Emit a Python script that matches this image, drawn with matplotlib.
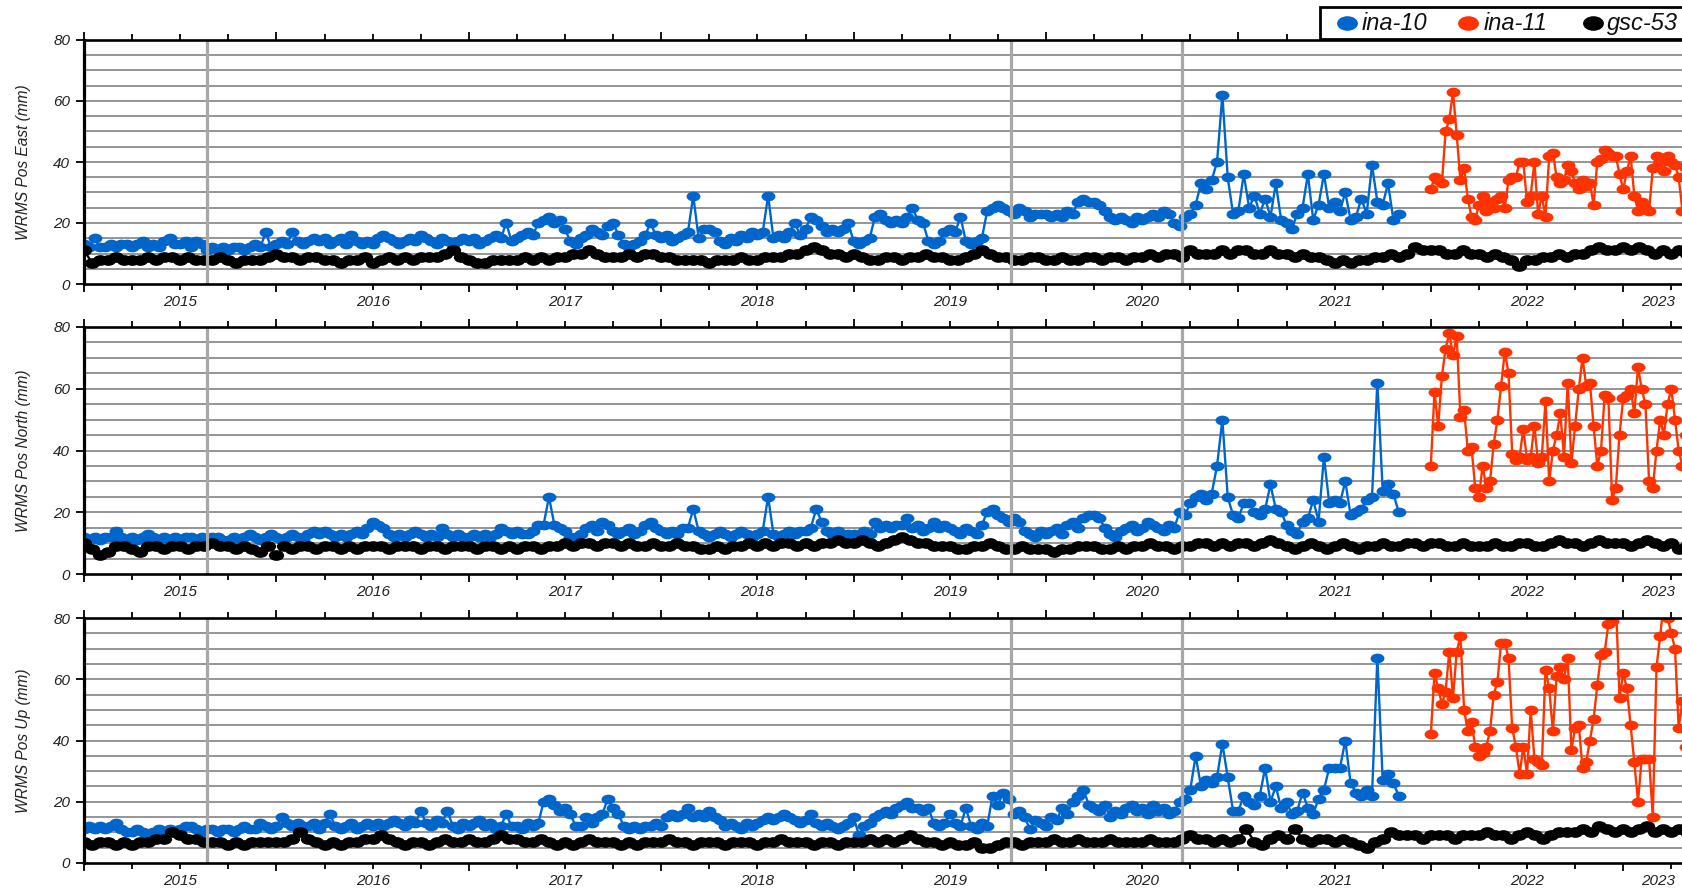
import numpy as np
import matplotlib
matplotlib.use("Agg")
import matplotlib.pyplot as plt
from matplotlib.path import Path
from matplotlib.transforms import Affine2D, blended_transform_factory
from matplotlib.lines import Line2D
from matplotlib.patches import Rectangle

plt.rcParams['font.family'] = ['Liberation Sans', 'DejaVu Sans']

# ---------------- data ----------------
PANEL_LABELS = ["WRMS Pos East (mm)", "WRMS Pos North (mm)", "WRMS Pos Up (mm)"]
SERIES_NAMES = ["ina-10", "ina-11", "gsc-53"]
SERIES_COLORS = ["#0066cc", "#ff3300", "#000000"]
YEARS = list(range(2015, 2024))
EVENT_DATES = [2015.637, 2019.82, 2020.705]
X_START, X_END = 2015.0, 2023.36
Y_TICKS = [0, 20, 40, 60, 80]

INA10_T0, INA10_STEP = 2015.0, 1 / 36
INA11_T0, INA11_STEP = 2022.0, 1 / 52
GSC53_T0, GSC53_STEP = 2015.0, 1 / 24

ina10_east = [
    13, 12, 15, 12, 12, 13, 12, 13, 13,
    12, 13, 14, 12, 13, 12, 14, 15, 13,
    13, 14, 12, 14, 13, 11, 12, 11, 12,
    11, 12, 12, 11, 12, 13, 12, 17, 12,
    13, 14, 13, 17, 14, 13, 14, 15, 14,
    15, 13, 14, 15, 13, 16, 14, 13, 14,
    13, 15, 16, 15, 14, 13, 14, 15, 14,
    16, 15, 14, 13, 15, 14, 13, 14, 15,
    14, 15, 13, 14, 15, 16, 15, 20, 14,
    15, 16, 17, 16, 20, 21, 22, 20, 21,
    18, 14, 13, 15, 16, 18, 17, 16, 19,
    20, 16, 13, 12, 13, 14, 16, 20, 16,
    15, 16, 14, 15, 16, 17, 29, 15, 18,
    18, 17, 14, 13, 15, 14, 16, 15, 17,
    16, 17, 29, 15, 16, 15, 17, 20, 16,
    18, 22, 21, 19, 17, 18, 17, 18, 20,
    14, 13, 14, 15, 22, 23, 21, 20, 21,
    20, 22, 25, 21, 20, 14, 13, 14, 17,
    18, 17, 22, 14, 13, 14, 15, 24, 25,
    26, 25, 24, 23, 25, 24, 22, 23, 23,
    23, 22, 23, 22, 24, 23, 27, 28, 27,
    27, 26, 24, 22, 21, 22, 21, 20, 22,
    21, 22, 23, 22, 24, 23, 20, 19, 22,
    23, 26, 33, 31, 34, 40, 62, 35, 23,
    24, 36, 25, 29, 23, 28, 22, 33, 21,
    20, 18, 23, 25, 36, 21, 26, 36, 25,
    27, 24, 30, 21, 22, 28, 23, 39, 27,
    26, 33, 21, 23,
]
ina11_east = [
    31, 35, 34, 33, 50, 54, 63, 49, 34, 38, 28, 22, 21,
    26, 29, 24, 27, 25, 28, 29, 25, 34, 35, 35, 40, 40,
    27, 29, 40, 23, 29, 22, 42, 43, 35, 33, 34, 39, 37,
    33, 31, 34, 32, 33, 26, 40, 41, 44, 43, 42, 42, 36,
    31, 37, 42, 29, 24, 27, 25, 24, 38, 42, 40, 37, 42,
    40, 39, 35, 24, 38, 36,
]
gsc53_east = [
    11, 7, 8, 8, 9, 8,  8, 8, 9, 8, 9, 9,  8, 9, 8, 8, 8, 9,  8, 7, 8, 8, 8, 9,
    10, 9, 9, 8, 9, 9,  8, 8, 7, 8, 8, 9,  7, 8, 9, 8, 9, 8,  9, 9, 9, 10, 11, 9,
    8, 7, 7, 8, 8, 8,  8, 9, 8, 9, 8, 9,  9, 10, 10, 11, 10, 9,  9, 9, 10, 9, 10, 10,
    9, 9, 8, 8, 8, 8,  7, 8, 8, 8, 9, 8,  8, 9, 9, 9, 10, 10,  11, 12, 11, 10, 10, 9,
    10, 9, 8, 8, 9, 9,  8, 9, 9, 10, 9, 9,  8, 8, 9, 10, 11, 10,  9, 9, 8, 8, 9, 9,
    8, 8, 9, 8, 8, 9,  9, 8, 9, 9, 8, 9,  9, 10, 9, 10, 10, 9,  11, 10, 10, 10, 11, 10,
    11, 11, 10, 10, 11, 10,  10, 9, 10, 9, 9, 8,  7, 8, 7, 8, 8, 9,  9, 10, 9, 10, 12, 11,
    11, 11, 10, 10, 11, 10,  10, 9, 10, 9, 8, 6,  8, 8, 9, 9, 10, 9,  10, 10, 11, 12, 11, 11,
    12, 11, 12, 11, 10, 11,
    10, 11, 10,
]

ina10_north = [
    12, 11, 12, 11, 12, 12, 14, 12, 11,
    12, 11, 12, 13, 12, 11, 12, 11, 12,
    11, 12, 12, 11, 12, 11, 12, 12, 11,
    11, 12, 11, 12, 13, 12, 11, 12, 13,
    12, 11, 12, 13, 12, 11, 13, 14, 13,
    14, 13, 12, 13, 12, 13, 14, 13, 15,
    17, 16, 15, 13, 12, 13, 12, 13, 14,
    13, 12, 13, 12, 15, 13, 12, 13, 12,
    12, 13, 12, 13, 12, 13, 15, 14, 13,
    14, 13, 13, 14, 16, 16, 25, 16, 15,
    14, 12, 12, 13, 15, 16, 14, 17, 16,
    14, 13, 14, 15, 13, 14, 16, 17, 15,
    14, 13, 14, 13, 15, 15, 21, 14, 13,
    12, 13, 14, 13, 12, 13, 14, 13, 12,
    13, 14, 25, 13, 12, 13, 14, 13, 14,
    14, 15, 21, 17, 14, 13, 14, 13, 13,
    13, 12, 14, 13, 17, 15, 16, 15, 16,
    16, 18, 15, 16, 14, 15, 17, 15, 16,
    15, 14, 13, 15, 14, 13, 16, 20, 21,
    19, 18, 17, 18, 17, 14, 13, 12, 14,
    13, 14, 15, 13, 16, 17, 15, 18, 19,
    19, 18, 15, 13, 12, 14, 15, 16, 14,
    15, 17, 16, 15, 14, 16, 15, 20, 19,
    23, 25, 26, 24, 26, 35, 50, 25, 19,
    18, 23, 23, 20, 19, 21, 29, 21, 20,
    16, 14, 13, 17, 18, 24, 17, 38, 23,
    24, 23, 30, 19, 20, 21, 24, 25, 62,
    27, 29, 26, 20,
]
ina11_north = [
    35, 59, 48, 64, 73, 78, 71, 77, 51, 53, 40, 41, 28,
    25, 35, 28, 30, 42, 50, 61, 72, 65, 39, 37, 38, 47,
    37, 38, 48, 36, 38, 56, 30, 40, 45, 52, 38, 62, 36,
    48, 60, 70, 61, 62, 48, 35, 40, 58, 57, 24, 28, 45,
    57, 58, 60, 52, 67, 60, 55, 30, 28, 40, 50, 45, 55,
    60, 50, 40, 35, 45, 50,
]
gsc53_north = [
    10, 8, 6, 7, 9, 9,  8, 7, 9, 9, 8, 9,  9, 8, 9, 9, 10, 9,  9, 8, 9, 8, 7, 9,
    6, 9, 8, 9, 9, 8,  9, 9, 8, 9, 8, 9,  9, 9, 8, 9, 9, 9,  8, 9, 9, 8, 9, 9,
    9, 8, 9, 9, 8, 9,  8, 9, 9, 8, 9, 9,  10, 9, 10, 10, 9, 10,  10, 9, 10, 9, 9, 10,
    9, 9, 10, 9, 9, 8,  8, 9, 8, 9, 9, 10,  9, 10, 9, 10, 10, 9,  10, 9, 10, 10, 11, 10,
    10, 11, 10, 9, 10, 11,  12, 11, 10, 10, 9, 9,  9, 8, 8, 9, 9, 10,  9, 8, 8, 9, 8, 8,
    8, 7, 8, 8, 9, 9,  9, 8, 8, 9, 8, 9,  9, 10, 9, 9, 8, 9,  9, 10, 10, 9, 10, 9,
    10, 10, 9, 10, 11, 10,  9, 8, 9, 10, 9, 8,  9, 10, 9, 8, 9, 9,  10, 9, 9, 10, 10, 9,
    10, 10, 9, 9, 10, 9,  9, 9, 10, 9, 9, 10,  10, 9, 9, 10, 11, 10,  10, 9, 10, 11, 10, 10,
    10, 9, 10, 11, 10, 9,
    10, 8, 9,
]

ina10_up = [
    11, 12, 11, 12, 11, 12, 13, 11, 10,
    10, 11, 10, 9, 10, 11, 10, 11, 10,
    11, 12, 12, 11, 10, 11, 11, 10, 11,
    11, 10, 11, 12, 11, 11, 13, 12, 11,
    12, 15, 13, 12, 13, 12, 12, 13, 11,
    13, 16, 12, 11, 12, 13, 11, 12, 13,
    12, 13, 12, 13, 14, 13, 12, 14, 13,
    17, 13, 12, 14, 13, 17, 12, 11, 13,
    12, 13, 14, 12, 13, 11, 12, 16, 12,
    12, 11, 13, 12, 13, 20, 21, 19, 17,
    18, 16, 12, 12, 15, 13, 15, 16, 21,
    18, 16, 12, 11, 12, 11, 12, 12, 13,
    12, 15, 16, 15, 16, 18, 15, 16, 15,
    17, 15, 14, 12, 13, 12, 11, 13, 12,
    13, 14, 15, 14, 15, 16, 15, 14, 13,
    14, 16, 13, 12, 13, 12, 11, 12, 13,
    15, 9, 12, 13, 15, 16, 17, 16, 18,
    19, 20, 18, 18, 17, 18, 13, 12, 13,
    16, 13, 12, 18, 12, 11, 13, 12, 22,
    19, 23, 21, 16, 17, 15, 11, 14, 13,
    12, 15, 14, 18, 16, 20, 22, 24, 19,
    18, 17, 19, 15, 17, 16, 18, 19, 17,
    18, 16, 19, 17, 18, 16, 17, 20, 21,
    24, 35, 25, 27, 26, 28, 39, 28, 17,
    17, 22, 20, 19, 22, 31, 20, 25, 18,
    20, 16, 17, 23, 18, 16, 21, 24, 31,
    31, 31, 40, 26, 23, 22, 24, 22, 67,
    27, 29, 26, 22,
]
ina11_up = [
    42, 62, 57, 52, 56, 69, 54, 69, 74, 50, 43, 46, 38,
    35, 36, 38, 43, 55, 59, 72, 72, 67, 44, 38, 29, 38,
    29, 50, 34, 33, 32, 63, 57, 43, 61, 64, 60, 67, 37,
    44, 45, 31, 33, 40, 47, 58, 68, 69, 78, 79, 86, 54,
    62, 57, 45, 33, 20, 34, 34, 34, 15, 64, 74, 86, 80,
    75, 70, 44, 53, 38, 45,
]
gsc53_up = [
    7, 6, 7, 7, 6, 7,  6, 7, 7, 8, 8, 10,  9, 8, 8, 7, 7, 7,  6, 7, 6, 7, 7, 7,
    7, 7, 8, 10, 8, 7,  6, 7, 6, 7, 7, 8,  8, 9, 8, 7, 6, 7,  7, 6, 7, 8, 7, 7,
    8, 7, 7, 8, 9, 8,  8, 7, 7, 8, 7, 6,  7, 6, 7, 8, 7, 7,  7, 6, 7, 6, 7, 7,
    7, 8, 7, 7, 6, 7,  7, 7, 6, 7, 7, 7,  6, 7, 7, 8, 7, 7,  7, 6, 7, 7, 6, 7,
    7, 7, 8, 7, 8, 7,  8, 9, 8, 7, 7, 6,  7, 6, 6, 7, 5, 5,  6, 7, 7, 6, 7, 7,
    7, 8, 7, 7, 8, 7,  7, 7, 8, 7, 7, 7,  7, 8, 7, 7, 7, 8,  9, 8, 8, 7, 8, 7,
    8, 11, 7, 6, 8, 9,  8, 11, 8, 7, 8, 8,  7, 8, 7, 6, 5, 7,  8, 10, 9, 9, 9, 8,
    9, 9, 9, 8, 9, 9,  9, 10, 9, 9, 8, 9,  10, 9, 8, 9, 10, 10,  10, 11, 10, 12, 11, 10,
    11, 10, 11, 12, 10, 11,
    10, 11, 10,
]

PANELS = [
    (ina10_east, ina11_east, gsc53_east),
    (ina10_north, ina11_north, gsc53_north),
    (ina10_up, ina11_up, gsc53_up),
]

# ---------------- figure ----------------
W, H = 1683, 890
fig = plt.figure(figsize=(W / 100, H / 100), dpi=100)

left_px = 84
px_per_year = 192.4
right_px = left_px + (X_END - X_START) * px_per_year
panel_px = [(40, 284), (327, 574), (618, 863)]

ell = Path.unit_circle().transformed(Affine2D().scale(1.0, 0.70))
MARKER_SIZES = [10.0, 10.0, 11.0]

def times(t0, step, n):
    return t0 + step * np.arange(n)

for i, (top, bot) in enumerate(panel_px):
    ax = fig.add_axes([left_px / W, (H - bot) / H,
                       (right_px - left_px) / W, (bot - top) / H])
    ax.set_xlim(X_START, X_END)
    ax.set_ylim(0, 80)

    # grid every 5 mm
    for g in range(5, 80, 5):
        ax.axhline(g, color='#959595', lw=1.4, zorder=1)

    v10, v11, v53 = PANELS[i]
    series = [
        (times(INA10_T0, INA10_STEP, len(v10)), v10, SERIES_COLORS[0]),
        (times(INA11_T0, INA11_STEP, len(v11)), v11, SERIES_COLORS[1]),
        (times(GSC53_T0, GSC53_STEP, len(v53)), v53, SERIES_COLORS[2]),
    ]
    for k, (t, v, c) in enumerate(series):
        ax.plot(t, v, '-', color=c, lw=1.7, marker=ell, ms=MARKER_SIZES[k],
                mfc=c, mec=c, mew=0, zorder=3 + k)

    for d in EVENT_DATES:
        ax.axvline(d, color='#a8a8a8', lw=2.3, zorder=8)

    # spines
    ax.spines['left'].set_linewidth(2.3)
    ax.spines['top'].set_linewidth(1.9)
    ax.spines['bottom'].set_linewidth(1.9)
    ax.spines['right'].set_visible(False)
    for s in ax.spines.values():
        s.set_zorder(9)

    # x ticks
    ax.set_xticks(YEARS)
    ax.set_xticks(np.arange(X_START, X_END, 0.25), minor=True)
    ax.tick_params(axis='x', which='both', direction='out', top=True,
                   bottom=True, labelbottom=False, labeltop=False,
                   width=1.3, color='black')
    ax.tick_params(axis='x', which='major', length=6)
    ax.tick_params(axis='x', which='minor', length=4)

    # y ticks
    ax.set_yticks(Y_TICKS)
    ax.set_yticklabels([str(y) for y in Y_TICKS], fontstyle='italic',
                       fontsize=11, color='#222222')
    ax.tick_params(axis='y', which='major', direction='out', length=6,
                   width=1.3, pad=4, left=True, right=False)

    # year labels at mid-year
    trans = blended_transform_factory(ax.transData, ax.transAxes)
    for y in YEARS:
        a, b = max(y, X_START), min(y + 1, X_END)
        if b > a:
            ax.text((a + b) / 2, -0.072, str(y), transform=trans,
                    ha='center', va='center', fontsize=11,
                    fontstyle='italic', color='#222222')

    fig.text(23.6 / W, (H - (top + bot) / 2) / H, PANEL_LABELS[i],
             rotation=90, ha='center', va='center', fontsize=11.2,
             fontstyle='italic', color='#222222')

# ---------------- legend ----------------
box = Rectangle((1320 / W, 1 - 39 / H), (1760 - 1320) / W, 32 / H,
                transform=fig.transFigure, facecolor='white',
                edgecolor='black', lw=2.0, zorder=20, clip_on=False)
fig.add_artist(box)
leg_marker_x = [1347, 1468, 1593]
leg_text_x = [1362, 1484, 1607]
for name, c, mx, tx in zip(SERIES_NAMES, SERIES_COLORS, leg_marker_x, leg_text_x):
    fig.add_artist(Line2D([mx / W], [1 - 23 / H], transform=fig.transFigure,
                          marker=ell, ms=15, mfc=c, mec=c, mew=0, ls='none',
                          zorder=21))
    fig.text(tx / W, 1 - 23.5 / H, name, ha='left', va='center', fontsize=17,
             fontstyle='italic', color='#111111', zorder=21)

fig.savefig('out.png', dpi=100)
